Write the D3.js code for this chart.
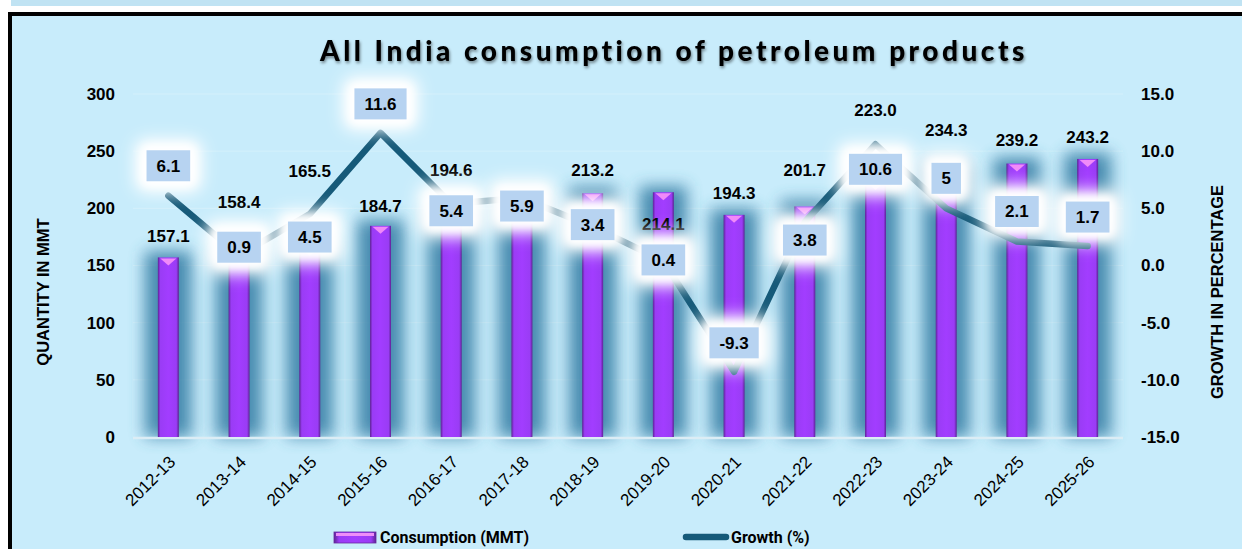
<!DOCTYPE html>
<html>
<head>
<meta charset="utf-8">
<script src="https://cdn.jsdelivr.net/npm/d3@7"></script>
<style>
  html, body { margin: 0; padding: 0; background: #fff; }
  svg { display: block; }
</style>
</head>
<body>
<div id="chart"></div>
<script>
'use strict';

var years = ['2012-13', '2013-14', '2014-15', '2015-16', '2016-17', '2017-18', '2018-19',
    '2019-20', '2020-21', '2021-22', '2022-23', '2023-24', '2024-25', '2025-26'];
var consumption = [157.1, 158.4, 165.5, 184.7, 194.6, 206.2, 213.2, 214.1, 194.3, 201.7, 223.0, 234.3, 239.2, 243.2];
var growth = [6.1, 0.9, 4.5, 11.6, 5.4, 5.9, 3.4, 0.4, -9.3, 3.8, 10.6, 5, 2.1, 1.7];
var leftTicks = [0, 50, 100, 150, 200, 250, 300];
var rightTicks = [-15, -10, -5, 0, 5, 10, 15];

// label nudges (px), as they were dragged around in the original
var barLabelLift = [21, 54, 77, 20, 44, -5, 23, -32, 22, 36, 72, 39, 23, 22];
var boxShift = [-30, -8, 23, -29, 7, 8, -2, -1, -29, 18, 25, -30, -30, -29];

var W = 1242, H = 549;
var margin = { left: 133, right: 119, top: 94, bottom: 112 };
var axisFont = '"Liberation Sans", Arial, sans-serif';

var svg = d3.select('#chart').append('svg')
    .attr('width', W)
    .attr('height', H);

var defs = svg.append('defs');
defs.append('filter').attr('id', 'glowBlue')
    .attr('x', '-100%').attr('y', '-20%').attr('width', '300%').attr('height', '140%')
    .append('feGaussianBlur').attr('stdDeviation', 8);
defs.append('filter').attr('id', 'glowWhite')
    .attr('x', '-80%').attr('y', '-120%').attr('width', '260%').attr('height', '340%')
    .append('feGaussianBlur').attr('stdDeviation', 8);
defs.append('filter').attr('id', 'glowWhite2')
    .attr('x', '-50%').attr('y', '-80%').attr('width', '200%').attr('height', '260%')
    .append('feGaussianBlur').attr('stdDeviation', 4);
defs.append('filter').attr('id', 'soft')
    .append('feGaussianBlur').attr('stdDeviation', 0.6);
var ts = defs.append('filter').attr('id', 'titleShadow');
ts.append('feDropShadow').attr('dx', 1).attr('dy', 2).attr('stdDeviation', 1.5)
    .attr('flood-color', '#000').attr('flood-opacity', 0.45);

var barGrad = defs.append('linearGradient').attr('id', 'barGrad')
    .attr('x1', 0).attr('x2', 1).attr('y1', 0).attr('y2', 0);
barGrad.append('stop').attr('offset', '0%').attr('stop-color', '#5d2394');
barGrad.append('stop').attr('offset', '12%').attr('stop-color', '#9a3cf5');
barGrad.append('stop').attr('offset', '50%').attr('stop-color', '#a23dff');
barGrad.append('stop').attr('offset', '88%').attr('stop-color', '#9a3cf5');
barGrad.append('stop').attr('offset', '100%').attr('stop-color', '#5d2394');

// page frame
svg.append('rect').attr('x', 11).attr('y', 0).attr('width', W - 11).attr('height', 6).attr('fill', '#c0e3f3');
svg.append('rect').attr('x', 10).attr('y', 14).attr('width', W).attr('height', H)
    .attr('fill', '#c8ecfb').attr('stroke', '#000').attr('stroke-width', 4);

// title
svg.append('text')
    .attr('x', 674).attr('y', 61)
    .attr('text-anchor', 'middle')
    .attr('font-family', 'Lato, "Open Sans", sans-serif')
    .attr('font-weight', 900)
    .attr('font-size', 28)
    .attr('letter-spacing', 3.5)
    .attr('fill', '#000')
    .attr('filter', 'url(#titleShadow)')
    .text('All India consumption of petroleum products');

var x = d3.scaleBand()
    .domain(years)
    .range([margin.left, W - margin.right]);

var y = d3.scaleLinear().domain([0, 300]).range([H - margin.bottom, margin.top]);
var y2 = d3.scaleLinear().domain([-15, 15]).range([H - margin.bottom, margin.top]);

var cx = function(i) { return x(years[i]) + x.bandwidth() / 2; };
var barW = 21;

// faint gridlines
svg.append('g').selectAll('line')
    .data(leftTicks.slice(1))
    .join('line')
    .attr('x1', margin.left).attr('x2', W - margin.right)
    .attr('y1', function(d) { return y(d); }).attr('y2', function(d) { return y(d); })
    .attr('stroke', '#d4f0fb').attr('stroke-width', 1);

// blue glow behind bars
svg.append('g').selectAll('rect')
    .data(consumption)
    .join('rect')
    .attr('x', function(d, i) { return cx(i) - barW / 2 - 13; })
    .attr('y', function(d) { return y(d) - 6; })
    .attr('width', barW + 26)
    .attr('height', function(d) { return y(0) - y(d) + 6; })
    .attr('fill', '#3a82a8')
    .attr('opacity', 0.9)
    .attr('filter', 'url(#glowBlue)');

// baseline
svg.append('line')
    .attr('x1', margin.left).attr('x2', W - margin.right)
    .attr('y1', y(0) + 1).attr('y2', y(0) + 1)
    .attr('stroke', '#dcedf5').attr('stroke-width', 2.5);

// bars
var bars = svg.append('g');
bars.selectAll('rect')
    .data(consumption)
    .join('rect')
    .attr('x', function(d, i) { return cx(i) - barW / 2; })
    .attr('y', function(d) { return y(d); })
    .attr('width', barW)
    .attr('height', function(d) { return y(0) - y(d); })
    .attr('fill', 'url(#barGrad)');
bars.selectAll('path')
    .data(consumption)
    .join('path')
    .attr('d', function(d, i) {
        var c = cx(i), t = y(d);
        return 'M' + (c - 8) + ',' + (t + 1) + 'L' + (c + 8) + ',' + (t + 1) + 'L' + c + ',' + (t + 8) + 'Z';
    })
    .attr('fill', '#f08af8');

// growth line
var line = d3.line()
    .x(function(d, i) { return cx(i); })
    .y(function(d) { return y2(d); });
svg.append('path')
    .datum(growth)
    .attr('d', line)
    .attr('fill', 'none')
    .attr('stroke', '#155a79')
    .attr('stroke-width', 6.5)
    .attr('stroke-linejoin', 'round')
    .attr('stroke-linecap', 'round')
    .attr('filter', 'url(#soft)');

// consumption labels
svg.append('g').selectAll('text')
    .data(consumption)
    .join('text')
    .attr('x', function(d, i) { return cx(i); })
    .attr('y', function(d, i) { return y(d) - barLabelLift[i]; })
    .attr('dy', '0.35em')
    .attr('text-anchor', 'middle')
    .attr('font-family', axisFont)
    .attr('font-weight', 'bold')
    .attr('font-size', 17)
    .attr('fill', '#000')
    .text(function(d) { return d.toFixed(1); });

// growth labels in boxes
var boxes = svg.append('g').selectAll('g')
    .data(growth)
    .join('g')
    .attr('transform', function(d, i) { return 'translate(' + cx(i) + ',' + (y2(d) + boxShift[i]) + ')'; });
boxes.each(function(d) {
    var g = d3.select(this);
    var t = g.append('text')
        .attr('text-anchor', 'middle')
        .attr('dy', '0.35em')
        .attr('font-family', axisFont)
        .attr('font-weight', 'bold')
        .attr('font-size', 17)
        .attr('fill', '#000')
        .text(String(d));
    var w = t.node().getComputedTextLength() + 20;
    g.insert('rect', 'text')
        .attr('x', -w / 2 - 12).attr('y', -27).attr('width', w + 24).attr('height', 54)
        .attr('rx', 12)
        .attr('fill', '#fff')
        .attr('filter', 'url(#glowWhite)');
    g.insert('rect', 'text')
        .attr('x', -w / 2 - 5).attr('y', -20).attr('width', w + 10).attr('height', 40)
        .attr('rx', 6)
        .attr('fill', '#fff')
        .attr('filter', 'url(#glowWhite2)');
    g.insert('rect', 'text')
        .attr('x', -w / 2).attr('y', -15.5).attr('width', w).attr('height', 31)
        .attr('fill', '#b7d3f1');
});

// axes
var leftAxis = svg.append('g')
    .attr('transform', 'translate(' + (margin.left - 18) + ',0)')
    .call(d3.axisLeft(y).tickValues(leftTicks).tickSize(0).tickPadding(0));
var rightAxis = svg.append('g')
    .attr('transform', 'translate(' + (W - margin.right + 18) + ',0)')
    .call(d3.axisRight(y2).tickValues(rightTicks).tickSize(0).tickPadding(0));
[leftAxis, rightAxis].forEach(function(a) {
    a.select('.domain').remove();
    a.selectAll('text')
        .attr('font-family', axisFont)
        .attr('font-weight', 'bold')
        .attr('font-size', 17)
        .attr('fill', '#000');
});
rightAxis.selectAll('text').text(function(d) { return d3.format('.1f')(d).replace('\u2212', '-'); });

var xAxis = svg.append('g')
    .attr('transform', 'translate(0,' + (y(0) + 12) + ')')
    .call(d3.axisBottom(x).tickSize(0).tickPadding(0));
xAxis.select('.domain').remove();
xAxis.selectAll('text')
    .attr('text-anchor', 'end')
    .attr('dy', 0)
    .attr('transform', 'translate(8,14) rotate(-45)')
    .attr('font-family', axisFont)
    .attr('font-size', 17)
    .attr('fill', '#000');

// axis titles
svg.append('text')
    .attr('transform', 'translate(49,292) rotate(-90)')
    .attr('text-anchor', 'middle')
    .attr('font-family', axisFont)
    .attr('font-weight', 'bold')
    .attr('font-size', 16.5)
    .text('QUANTITY IN MMT');
svg.append('text')
    .attr('transform', 'translate(1223,292) rotate(-90)')
    .attr('text-anchor', 'middle')
    .attr('font-family', axisFont)
    .attr('font-weight', 'bold')
    .attr('font-size', 16.5)
    .text('GROWTH IN PERCENTAGE');

// legend
var legend = svg.append('g').attr('font-family', 'Roboto, sans-serif').attr('font-weight', 'bold').attr('font-size', 16);
legend.append('rect').attr('x', 334).attr('y', 532).attr('width', 42).attr('height', 11)
    .attr('fill', 'url(#barGrad)').attr('stroke', '#6a2aa0').attr('stroke-width', 0.8);
legend.append('rect').attr('x', 336).attr('y', 533).attr('width', 38).attr('height', 3).attr('fill', '#ee8ef8');
legend.append('text').attr('x', 380).attr('y', 543).text('Consumption (MMT)');
legend.append('line').attr('x1', 686).attr('x2', 726).attr('y1', 537).attr('y2', 537)
    .attr('stroke', '#155a79').attr('stroke-width', 6.5).attr('stroke-linecap', 'round');
legend.append('text').attr('x', 731).attr('y', 543).text('Growth (%)');
</script>
</body>
</html>
